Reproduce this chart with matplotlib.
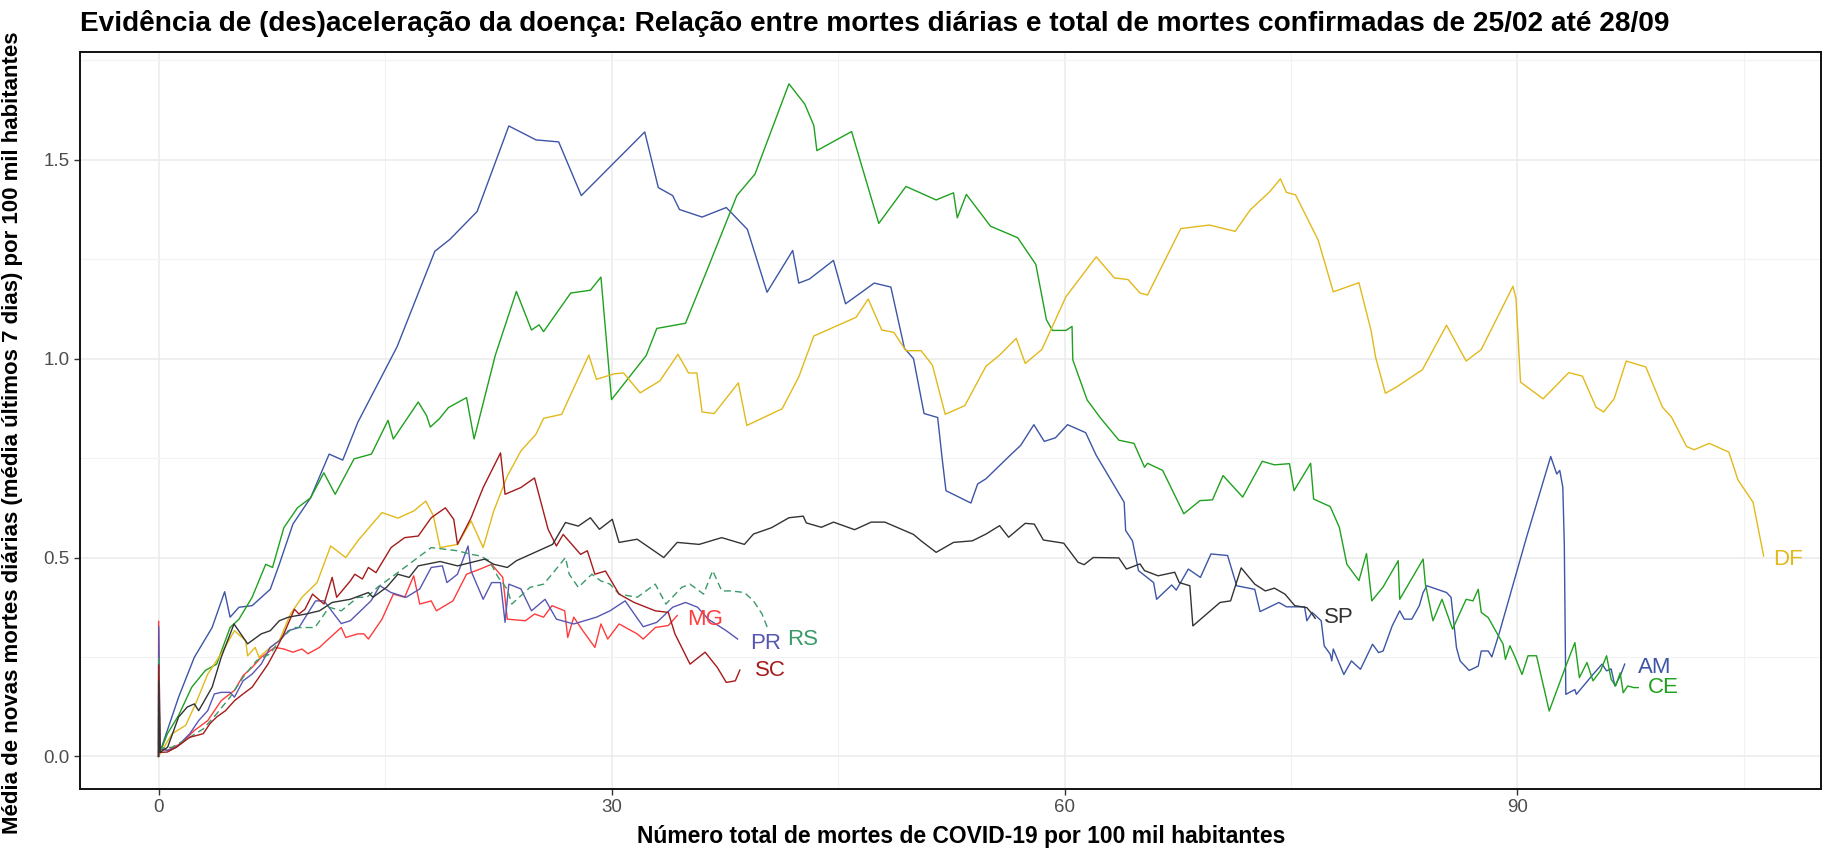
import matplotlib
matplotlib.use("Agg")
import matplotlib.pyplot as plt
from matplotlib.ticker import MultipleLocator

plt.rcParams['font.family'] = ['Liberation Sans', 'DejaVu Sans']

# (total deaths per 100k, 7-day mean of daily deaths per 100k)
am = [(0, 0), (1.33, 0.149), (2.37, 0.249), (3.55, 0.324), (4.38, 0.414), (4.74, 0.35), (5.33, 0.375),
      (6.2, 0.379), (7.4, 0.42), (8.0, 0.483), (8.9, 0.584), (10.07, 0.65), (11.3, 0.76), (12.2, 0.745),
      (13.2, 0.84), (15.8, 1.03), (18.3, 1.27), (19.3, 1.30), (21.1, 1.37), (23.2, 1.585), (25.0, 1.55),
      (26.5, 1.545), (28.0, 1.41), (32.2, 1.57), (33.1, 1.43), (34.05, 1.41), (34.5, 1.375), (36.0, 1.356),
      (37.6, 1.38), (39.0, 1.325), (40.3, 1.167), (42.0, 1.272), (42.4, 1.19), (43.1, 1.20), (44.7, 1.247),
      (45.5, 1.138), (47.4, 1.19), (48.5, 1.18), (49.4, 1.026), (50.0, 1.0), (50.7, 0.862), (51.6, 0.852),
      (51.9, 0.748), (52.15, 0.668), (53.8, 0.637), (54.25, 0.685), (54.8, 0.698), (56.4, 0.757),
      (57.1, 0.782), (57.97, 0.834), (58.66, 0.792), (59.4, 0.801), (60.2, 0.834), (61.4, 0.814),
      (62.1, 0.757), (63.95, 0.639), (64.05, 0.568), (64.5, 0.542), (64.9, 0.467), (65.9, 0.437),
      (66.1, 0.395), (67.1, 0.431), (67.4, 0.418), (68.2, 0.471), (69.0, 0.45), (69.7, 0.509),
      (70.8, 0.505), (71.4, 0.429), (72.6, 0.42), (72.95, 0.364), (74.2, 0.387), (74.7, 0.376),
      (75.9, 0.376), (76.05, 0.341), (76.4, 0.362), (77.0, 0.341), (77.2, 0.278), (77.6, 0.257),
      (77.7, 0.24), (77.8, 0.27), (78.5, 0.206), (79.0, 0.24), (79.6, 0.219), (80.4, 0.282),
      (80.8, 0.261), (81.1, 0.265), (81.7, 0.328), (82.2, 0.366), (82.5, 0.345), (83.0, 0.345),
      (83.5, 0.379), (83.75, 0.412), (84.0, 0.429), (85.3, 0.412), (85.6, 0.40), (85.96, 0.273),
      (86.2, 0.24), (86.8, 0.216), (87.4, 0.227), (87.6, 0.265), (88.06, 0.265), (88.3, 0.25),
      (88.8, 0.311), (90.6, 0.551), (92.2, 0.754), (92.6, 0.71), (92.8, 0.719), (93.0, 0.677),
      (93.1, 0.534), (93.2, 0.156), (93.8, 0.168), (93.9, 0.156), (95.0, 0.206), (95.6, 0.232),
      (95.9, 0.215), (96.2, 0.22), (96.45, 0.177), (96.8, 0.202), (97.1, 0.232)]

ce = [(0, 0), (0.59, 0.057), (1.33, 0.103), (2.2, 0.174), (3.1, 0.216), (3.85, 0.232), (4.74, 0.324),
      (5.33, 0.345), (6.2, 0.40), (7.1, 0.483), (7.55, 0.475), (8.3, 0.575), (9.2, 0.625), (10.07, 0.65),
      (10.95, 0.713), (11.7, 0.659), (12.95, 0.748), (14.1, 0.76), (15.2, 0.845), (15.55, 0.798),
      (17.2, 0.891), (17.75, 0.857), (18.0, 0.828), (18.6, 0.849), (19.2, 0.877), (20.4, 0.902),
      (20.9, 0.798), (22.3, 1.008), (23.7, 1.169), (24.7, 1.072), (25.2, 1.085), (25.5, 1.068),
      (27.3, 1.165), (28.6, 1.172), (29.3, 1.205), (30.0, 0.897), (32.3, 1.008), (33.0, 1.076),
      (34.9, 1.089), (36.3, 1.22), (38.3, 1.41), (39.5, 1.464), (41.75, 1.691), (42.8, 1.64),
      (43.4, 1.586), (43.6, 1.523), (45.9, 1.571), (47.7, 1.34), (49.5, 1.433), (51.5, 1.399),
      (52.65, 1.417), (52.9, 1.354), (53.5, 1.413), (55.1, 1.333), (56.9, 1.304), (58.1, 1.237),
      (58.8, 1.098), (59.2, 1.071), (60.1, 1.071), (60.5, 1.081), (60.55, 0.997), (61.5, 0.896),
      (62.4, 0.85), (63.6, 0.795), (64.6, 0.787), (65.3, 0.727), (65.5, 0.737), (66.5, 0.719),
      (67.9, 0.61), (68.97, 0.643), (69.8, 0.645), (70.5, 0.706), (71.8, 0.652), (73.1, 0.742),
      (73.9, 0.733), (74.9, 0.736), (75.2, 0.668), (76.3, 0.737), (76.5, 0.647), (77.6, 0.628),
      (78.2, 0.576), (78.7, 0.483), (79.5, 0.442), (80.0, 0.51), (80.35, 0.391), (81.1, 0.426),
      (82.1, 0.492), (82.2, 0.395), (83.75, 0.496), (83.9, 0.433), (84.4, 0.341), (85.0, 0.395),
      (85.7, 0.32), (86.6, 0.395), (87.05, 0.391), (87.4, 0.42), (87.6, 0.362), (88.06, 0.349),
      (89.05, 0.282), (89.2, 0.244), (89.5, 0.278), (89.8, 0.253), (90.3, 0.206), (90.7, 0.253),
      (91.26, 0.253), (92.1, 0.114), (93.2, 0.227), (93.8, 0.286), (94.1, 0.198), (94.6, 0.236),
      (95.0, 0.19), (95.5, 0.215), (95.9, 0.253), (96.2, 0.194), (96.5, 0.177), (96.8, 0.21),
      (97.0, 0.16), (97.3, 0.177), (97.7, 0.173), (98.0, 0.173)]

df = [(0, 0), (0.9, 0.057), (1.8, 0.078), (2.5, 0.136), (3.26, 0.207), (4.15, 0.258), (5.03, 0.316),
      (5.77, 0.291), (5.9, 0.253), (6.4, 0.274), (6.66, 0.249), (7.4, 0.274), (8.0, 0.291), (8.74, 0.358),
      (9.5, 0.40), (10.5, 0.437), (11.4, 0.529), (12.4, 0.50), (13.2, 0.542), (14.8, 0.613),
      (15.85, 0.599), (16.9, 0.617), (17.7, 0.642), (18.2, 0.605), (18.65, 0.525), (19.8, 0.533),
      (20.7, 0.592), (21.5, 0.525), (22.2, 0.617), (23.1, 0.705), (24.0, 0.768), (25.0, 0.81),
      (25.5, 0.85), (26.7, 0.86), (28.5, 1.009), (29.0, 0.948), (30.2, 0.962), (30.8, 0.964),
      (31.9, 0.914), (33.2, 0.944), (34.4, 1.011), (35.1, 0.964), (35.65, 0.964), (36.0, 0.866),
      (36.8, 0.862), (38.4, 0.939), (38.96, 0.832), (41.3, 0.874), (42.4, 0.954), (43.4, 1.057),
      (46.2, 1.104), (47.0, 1.15), (47.9, 1.072), (48.7, 1.066), (49.5, 1.02), (50.5, 1.02),
      (51.25, 0.984), (52.1, 0.86), (53.4, 0.882), (54.8, 0.981), (55.7, 1.009), (56.8, 1.051),
      (57.4, 0.988), (58.5, 1.023), (60.1, 1.156), (62.1, 1.256), (63.3, 1.203), (64.2, 1.199),
      (65.0, 1.165), (65.5, 1.16), (67.7, 1.327), (69.6, 1.336), (71.3, 1.32), (72.3, 1.374),
      (73.6, 1.42), (74.3, 1.452), (74.7, 1.418), (75.3, 1.412), (76.8, 1.298), (77.8, 1.168),
      (79.5, 1.191), (80.3, 1.071), (80.6, 1.004), (81.25, 0.913), (82.0, 0.929), (83.7, 0.972),
      (85.3, 1.084), (86.6, 0.994), (87.6, 1.023), (89.7, 1.182), (89.9, 1.151), (90.2, 0.941),
      (91.7, 0.899), (93.4, 0.965), (94.3, 0.956), (95.2, 0.878), (95.7, 0.866), (96.4, 0.899),
      (97.2, 0.994), (98.5, 0.979), (99.6, 0.878), (100.2, 0.853), (101.2, 0.779), (101.7, 0.771),
      (102.7, 0.787), (104.0, 0.765), (104.6, 0.695), (105.6, 0.639), (106.3, 0.504)]

mg = [(0, 0), (0.01, 0.34), (0.1, 0.02), (0.59, 0.015), (1.48, 0.032), (2.37, 0.065), (3.26, 0.09),
      (4.15, 0.14), (5.03, 0.166), (5.6, 0.203), (6.2, 0.224), (6.8, 0.249), (7.7, 0.274), (8.3, 0.27),
      (8.9, 0.262), (9.5, 0.27), (9.9, 0.258), (10.66, 0.274), (11.25, 0.295), (12.1, 0.324),
      (12.4, 0.299), (13.2, 0.308), (13.6, 0.308), (13.9, 0.295), (14.8, 0.345), (15.55, 0.408),
      (16.3, 0.40), (16.9, 0.454), (17.3, 0.383), (18.06, 0.391), (18.4, 0.366), (19.5, 0.391),
      (20.4, 0.458), (21.3, 0.471), (22.06, 0.483), (22.8, 0.45), (23.1, 0.345), (24.3, 0.341),
      (24.9, 0.358), (25.5, 0.35), (26.06, 0.379), (26.9, 0.366), (27.1, 0.299), (27.5, 0.35),
      (28.1, 0.316), (28.9, 0.274), (29.3, 0.333), (29.75, 0.295), (30.5, 0.333), (31.7, 0.308),
      (32.1, 0.295), (32.9, 0.324), (33.76, 0.329), (34.35, 0.354)]

pr = [(0, 0), (0.01, 0.326), (0.1, 0.02), (0.59, 0.015), (1.18, 0.023), (2.07, 0.057), (2.66, 0.09),
      (3.26, 0.115), (3.7, 0.157), (4.15, 0.161), (4.74, 0.161), (5.03, 0.149), (5.6, 0.19), (6.2, 0.207),
      (6.8, 0.232), (7.4, 0.274), (8.0, 0.291), (8.6, 0.316), (9.3, 0.324), (10.4, 0.391), (10.96, 0.391),
      (12.1, 0.334), (12.7, 0.341), (14.07, 0.391), (14.66, 0.429), (15.4, 0.412), (16.4, 0.40),
      (17.3, 0.421), (18.06, 0.475), (18.8, 0.479), (19.1, 0.437), (19.8, 0.458), (20.5, 0.529),
      (20.7, 0.466), (21.5, 0.395), (22.06, 0.437), (22.65, 0.437), (22.95, 0.337), (23.2, 0.433),
      (24.0, 0.421), (24.7, 0.366), (25.6, 0.395), (26.35, 0.345), (27.5, 0.333), (29.0, 0.35),
      (29.9, 0.366), (30.9, 0.391), (32.1, 0.326), (33.0, 0.337), (34.05, 0.375), (34.9, 0.387),
      (35.7, 0.375), (36.4, 0.345), (37.6, 0.316), (38.35, 0.295)]

rs = [(0, 0), (0.01, 0.25), (0.1, 0.02), (0.9, 0.023), (2.07, 0.048), (2.96, 0.069), (3.85, 0.107),
      (4.74, 0.149), (5.6, 0.199), (6.5, 0.241), (7.4, 0.258), (8.0, 0.291), (8.9, 0.324), (10.36, 0.324),
      (11.3, 0.375), (12.1, 0.366), (13.2, 0.40), (13.8, 0.40), (14.5, 0.425), (15.7, 0.458),
      (16.9, 0.492), (18.06, 0.525), (19.8, 0.517), (20.7, 0.508), (21.3, 0.504), (21.9, 0.492),
      (22.5, 0.45), (23.1, 0.42), (23.4, 0.383), (24.6, 0.425), (25.5, 0.433), (26.06, 0.458),
      (26.95, 0.50), (27.2, 0.458), (27.8, 0.425), (28.7, 0.458), (29.3, 0.441), (29.9, 0.433),
      (30.5, 0.408), (31.7, 0.40), (32.9, 0.433), (33.6, 0.383), (34.65, 0.425), (35.2, 0.433),
      (36.1, 0.408), (36.7, 0.467), (37.3, 0.416), (37.9, 0.416), (38.8, 0.412), (39.4, 0.391),
      (39.97, 0.358), (40.4, 0.316)]

sc = [(0, 0), (0.01, 0.23), (0.1, 0.01), (0.59, 0.011), (1.18, 0.023), (2.07, 0.048), (2.96, 0.057),
      (3.4, 0.082), (3.85, 0.099), (4.44, 0.115), (5.03, 0.14), (5.6, 0.157), (6.2, 0.174), (6.8, 0.207),
      (7.25, 0.232), (7.85, 0.274), (8.3, 0.308), (9.0, 0.37), (9.3, 0.358), (9.7, 0.37), (10.2, 0.408),
      (10.96, 0.383), (11.5, 0.45), (11.8, 0.40), (12.7, 0.441), (13.0, 0.458), (13.5, 0.446),
      (13.9, 0.475), (14.4, 0.462), (15.4, 0.525), (16.3, 0.55), (17.2, 0.554), (18.06, 0.60),
      (19.0, 0.625), (19.55, 0.596), (19.8, 0.533), (20.7, 0.60), (21.5, 0.676), (22.65, 0.763),
      (22.95, 0.659), (24.0, 0.676), (24.9, 0.70), (25.8, 0.571), (26.35, 0.529), (26.8, 0.558),
      (27.95, 0.508), (28.4, 0.517), (28.9, 0.458), (29.6, 0.466), (30.5, 0.408), (31.5, 0.387),
      (32.9, 0.366), (33.76, 0.362), (34.2, 0.308), (35.2, 0.232), (36.2, 0.262), (37.0, 0.224),
      (37.6, 0.186), (38.2, 0.19), (38.5, 0.217)]

sp = [(0, 0), (0.01, 0.19), (0.1, 0.01), (0.6, 0.023), (1.33, 0.099), (1.9, 0.124), (2.37, 0.132),
      (2.66, 0.115), (3.55, 0.174), (4.15, 0.249), (5.0, 0.333), (5.9, 0.283), (6.8, 0.308), (7.4, 0.316),
      (8.0, 0.341), (8.6, 0.35), (9.77, 0.358), (10.66, 0.366), (11.5, 0.387), (12.7, 0.395),
      (13.9, 0.412), (14.2, 0.40), (15.1, 0.425), (15.85, 0.458), (16.6, 0.45), (17.2, 0.479),
      (18.65, 0.49), (19.8, 0.479), (21.6, 0.496), (22.2, 0.483), (23.1, 0.475), (23.7, 0.492),
      (26.1, 0.533), (26.95, 0.588), (27.8, 0.579), (28.6, 0.60), (29.2, 0.571), (30.05, 0.596),
      (30.5, 0.538), (31.7, 0.546), (33.46, 0.50), (34.35, 0.538), (35.8, 0.533), (37.3, 0.55),
      (38.8, 0.533), (39.4, 0.559), (40.6, 0.575), (41.75, 0.60), (42.7, 0.604), (42.9, 0.587),
      (43.9, 0.576), (44.7, 0.589), (46.1, 0.57), (47.2, 0.589), (48.1, 0.589), (50.0, 0.558),
      (50.5, 0.542), (51.5, 0.513), (52.65, 0.538), (53.9, 0.542), (54.8, 0.559), (55.7, 0.58),
      (56.3, 0.551), (57.4, 0.586), (58.0, 0.584), (58.6, 0.544), (59.95, 0.536), (60.9, 0.488),
      (61.3, 0.482), (61.9, 0.50), (63.6, 0.499), (64.1, 0.471), (65.0, 0.484), (65.3, 0.467),
      (66.2, 0.454), (67.3, 0.463), (67.6, 0.437), (68.3, 0.429), (68.5, 0.328), (70.3, 0.387),
      (71.0, 0.391), (71.7, 0.474), (72.6, 0.433), (73.3, 0.416), (73.9, 0.423), (74.6, 0.408),
      (75.25, 0.379), (76.05, 0.374), (76.4, 0.358), (76.6, 0.347)]

states = ['AM', 'CE', 'DF', 'MG', 'PR', 'RS', 'SC', 'SP']
series = [am, ce, df, mg, pr, rs, sc, sp]
colors = ['#3D55A5', '#1FA11F', '#E2B91A', '#FF3B3B', '#5757B3', '#3A9A68', '#A51A1A', '#333333']
styles = ['-', '-', '-', '-', '-', '--', '-', '-']
# where each state's label sits (left edge, vertical centre)
label_x = [98.0, 98.65, 106.9, 35.0, 39.2, 41.6, 39.5, 77.2]
label_y = [0.223, 0.174, 0.496, 0.343, 0.285, 0.295, 0.216, 0.348]

fig = plt.figure(figsize=(18.39, 8.49), dpi=100)
ax = fig.add_axes([80 / 1839, 60 / 849, 1741 / 1839, 737 / 849])

for name, pts, c, ls, lx, ly in zip(states, series, colors, styles, label_x, label_y):
    xs = [p[0] for p in pts]
    ys = [p[1] for p in pts]
    ax.plot(xs, ys, color=c, lw=1.0, ls=ls, dashes=(5, 3) if ls == '--' else (None, None))
    ax.text(lx, ly, name, color=c, fontsize=16, ha='left', va='center')

ax.set_xlim(-5.2, 110.1)
ax.set_ylim(-0.082, 1.771)
ax.xaxis.set_major_locator(MultipleLocator(30))
ax.xaxis.set_minor_locator(MultipleLocator(15))
ax.yaxis.set_major_locator(MultipleLocator(0.5))
ax.yaxis.set_minor_locator(MultipleLocator(0.25))
ax.yaxis.set_major_formatter(plt.FuncFormatter(lambda v, p: f'{v:.1f}'))
ax.grid(which='major', color='#EBEBEB', lw=1.1)
ax.grid(which='minor', color='#F2F2F2', lw=0.8)
ax.set_axisbelow(True)
ax.tick_params(which='major', length=4, width=1, color='#333333', labelcolor='#4D4D4D',
               labelsize=13.5)
ax.tick_params(which='minor', length=0)
for s in ax.spines.values():
    s.set_color('#111111')
    s.set_linewidth(1.4)

ax.set_xlabel('Número total de mortes de COVID-19 por 100 mil habitantes',
              fontsize=16.5, fontweight='bold', va='center')
ax.xaxis.set_label_coords(0.506, -0.065)
ax.set_ylabel('Média de novas mortes diárias (média últimos 7 dias) por 100 mil habitantes',
              fontsize=16, fontweight='bold', va='center')
ax.yaxis.set_label_coords(-0.039, 0.483)

fig.text(80 / 1839, 1 - 31 / 849,
         'Evidência de (des)aceleração da doença: Relação entre mortes diárias e total de mortes confirmadas de 25/02 até 28/09',
         fontsize=20.2, fontweight='bold', ha='left', va='baseline')

fig.savefig('out.png', dpi=100)
